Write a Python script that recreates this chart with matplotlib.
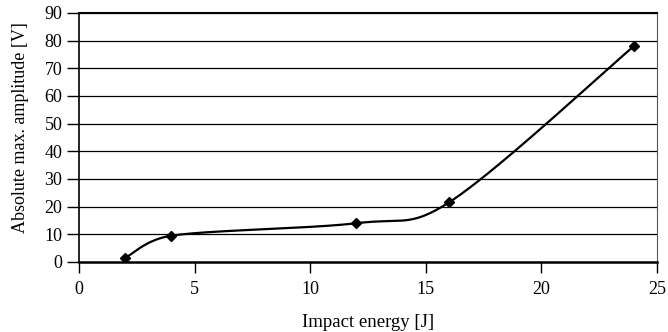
import numpy as np
import matplotlib
matplotlib.use("Agg")
import matplotlib.pyplot as plt

plt.rcParams['font.family'] = ['Liberation Serif', 'DejaVu Serif']

# values
energy = [2, 4, 12, 16, 24]
amplitude = [1.5, 9.5, 14.0, 21.5, 78.0]

x_ticks = [0, 5, 10, 15, 20, 25]
y_ticks = [0, 10, 20, 30, 40, 50, 60, 70, 80, 90]


def smooth_line(xs, ys, sx, sy, n=40):
    # excel-like smoothed line: bezier segments with catmull-rom arms,
    # each arm capped at half the segment length (screen-scaled coords)
    p = np.column_stack([np.array(xs) / sx, np.array(ys) / sy])
    pts = np.vstack([p[0], p, p[-1]])
    out = []
    t = np.linspace(0, 1, n)[:, None]
    for i in range(1, len(pts) - 2):
        p0, p1, p2, p3 = pts[i - 1], pts[i], pts[i + 1], pts[i + 2]
        d12 = np.linalg.norm(p2 - p1)
        a1 = (p2 - p0) / 6
        a2 = (p3 - p1) / 6
        if np.linalg.norm(a1) > d12 / 2:
            a1 = a1 * (d12 / 2) / np.linalg.norm(a1)
        if np.linalg.norm(a2) > d12 / 2:
            a2 = a2 * (d12 / 2) / np.linalg.norm(a2)
        b1 = p1 + a1
        b2 = p2 - a2
        seg = ((1 - t) ** 3) * p1 + 3 * ((1 - t) ** 2) * t * b1 \
            + 3 * (1 - t) * t ** 2 * b2 + t ** 3 * p2
        out.append(seg)
    out = np.vstack(out)
    return out[:, 0] * sx, out[:, 1] * sy


fig = plt.figure(figsize=(6.68, 3.32), dpi=100)
ax = fig.add_axes([0.1183, 0.211, 0.8652, 0.75])

for y in y_ticks[1:]:
    ax.axhline(y, color='black', lw=0.9, zorder=1)

sx, sy = smooth_line(energy, amplitude, 25 / 578, 90 / 249)
ax.plot(sx, sy, color='black', lw=1.6, zorder=3)
ax.plot(energy, amplitude, linestyle='none', marker='D', markersize=5,
        color='black', zorder=4)

ax.set_xlim(0, 25)
ax.set_ylim(0, 90)
ax.set_xticks(x_ticks)
ax.set_yticks(y_ticks)
ax.tick_params(axis='both', labelsize=13, direction='out', length=8, width=1,
               colors='black')
ax.tick_params(axis='x', pad=6)
ax.tick_params(axis='y', length=9, pad=3)

ax.spines['left'].set_linewidth(1.2)
ax.spines['bottom'].set_linewidth(1.8)
ax.spines['top'].set_linewidth(1.5)
ax.spines['right'].set_linewidth(0.8)
ax.spines['right'].set_color('#555555')

ax.set_xlabel("Impact energy [J]", fontsize=13.5, labelpad=11)
ax.set_ylabel("Absolute max. amplitude [V]", fontsize=13, labelpad=11)
ax.yaxis.label.set_y(0.54)

fig.savefig("out.png", dpi=100)
